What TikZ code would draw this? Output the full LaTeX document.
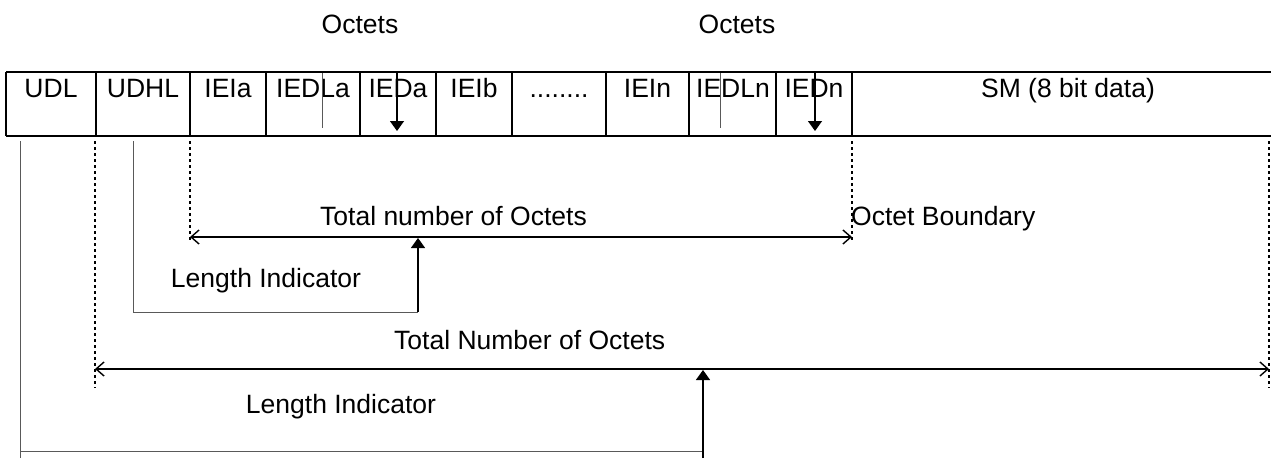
\documentclass[tikz,border=0pt]{standalone}
\usepackage{fontspec}
\setmainfont{Liberation Sans}
\usetikzlibrary{arrows.meta}
\begin{document}
\begin{tikzpicture}[x=1pt,y=-1pt,
  lbl/.style={inner sep=0pt, anchor=base, font=\fontsize{26.5}{31}\selectfont},
  lblw/.style={inner sep=0pt, anchor=base west, font=\fontsize{26.5}{31}\selectfont},
  boxline/.style={line width=1.8pt},
  dotline/.style={line width=1.8pt, dash pattern=on 3pt off 3pt},
  thinline/.style={line width=1pt, black!65},
  uparrow/.style={line width=1.4pt, -{Triangle[length=10pt,width=14pt]}},
  dimarrow/.style={line width=1.4pt, {Straight Barb[length=8pt,width=14pt]}-{Straight Barb[length=8pt,width=14pt]}}]
\useasboundingbox (0,0) rectangle (1271,458);

% top labels
\node[lbl] (oct1) at (360,33) {Octets};
\node[lbl] (oct2) at (737,33) {Octets};

% row of fields
\draw[boxline] (6,72) -- (1271,72);
\draw[boxline] (6,136) -- (1271,136);
\foreach \x in {6,96,190,266,360,436,512,606,689,776,852}
  \draw[boxline] (\x,72) -- (\x,136);

\node[lbl] (udl)   at (51,97)  {UDL};
\node[lbl] (udhl)  at (143,97) {UDHL};
\node[lbl] (ieia)  at (228,97) {IEIa};
\node[lbl] (iedla) at (313,97) {IEDLa};
\node[lbl] (ieda)  at (398,97) {IEDa};
\node[lbl] (ieib)  at (474,97) {IEIb};
\node[lbl] (dots)  at (559,97) {........};
\node[lbl] (iein)  at (647.5,97) {IEIn};
\node[lbl] (iedln) at (733,97) {IEDLn};
\node[lbl] (iedn)  at (814,97) {IEDn};
\node[lbl] (sm)    at (1068,97) {SM (8 bit data)};

% marks inside the cells
\coordinate (la1) at (322,73);  \coordinate (la2) at (322,128);
\coordinate (ln1) at (720,73);  \coordinate (ln2) at (720,128);
\coordinate (da1) at (397,73);  \coordinate (da2) at (397,131);
\coordinate (dn1) at (815,73);  \coordinate (dn2) at (815,131);
\draw[thinline] (la1) -- (la2);
\draw[thinline] (ln1) -- (ln2);
\draw[uparrow] (da1) -- (da2);
\draw[uparrow] (dn1) -- (dn2);

% dotted boundaries
\coordinate (d1t) at (95,141);   \coordinate (d1b) at (95,388);
\coordinate (d2t) at (190,141);  \coordinate (d2b) at (190,240);
\coordinate (d3t) at (852,141);  \coordinate (d3b) at (852,242);
\coordinate (d4t) at (1269,141); \coordinate (d4b) at (1269,388);
\draw[dotline] (d1t) -- (d1b);
\draw[dotline] (d2t) -- (d2b);
\draw[dotline] (d3t) -- (d3b);
\draw[dotline] (d4t) -- (d4b);

% inner length indicator (UDHL)
\coordinate (a1) at (133,141);
\coordinate (a2) at (133,312);
\coordinate (a3) at (418,312);
\coordinate (a4) at (418,238);
\draw[thinline] (a1) -- (a2) -- (a3);
\draw[uparrow] (a3) -- (a4);
\node[lbl] (li1) at (266,287) {Length Indicator};

% inner total
\coordinate (t1l) at (190,237);
\coordinate (t1r) at (852,237);
\draw[dimarrow] (t1l) -- (t1r);
\node[lblw] (tot1) at (320,225) {Total number of Octets};
\node[lblw] (ob) at (851,225) {Octet Boundary};

% outer length indicator (UDL)
\coordinate (b1) at (20,141);
\coordinate (b2) at (20,451);
\coordinate (b2e) at (20,458);
\coordinate (b3) at (703,451);
\coordinate (b3e) at (703,458);
\coordinate (b4) at (703,370);
\draw[thinline] (b1) -- (b2e);
\draw[thinline] (b2) -- (b3);
\draw[uparrow] (b3e) -- (b4);
\node[lbl] (li2) at (341,413) {Length Indicator};

% outer total
\coordinate (t2l) at (95,369);
\coordinate (t2r) at (1269,369);
\draw[dimarrow] (t2l) -- (t2r);
\node[lblw] (tot2) at (394,349) {Total Number of Octets};
\end{tikzpicture}
\end{document}
